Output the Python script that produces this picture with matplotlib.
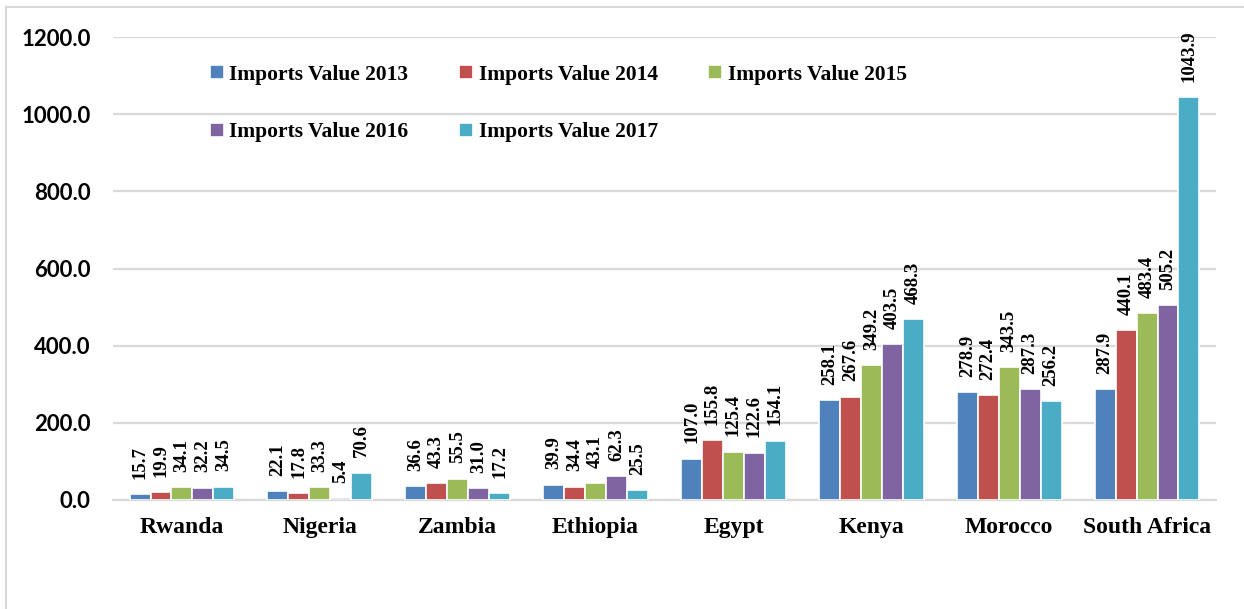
import numpy as np
import matplotlib
matplotlib.use("Agg")
import matplotlib.pyplot as plt
from matplotlib.lines import Line2D

# data
countries = ["Rwanda", "Nigeria", "Zambia", "Ethiopia", "Egypt", "Kenya",
             "Morocco", "South Africa"]
years = ["2013", "2014", "2015", "2016", "2017"]
imp_2013 = [15.7, 22.1, 36.6, 39.9, 107.0, 258.1, 278.9, 287.9]
imp_2014 = [19.9, 17.8, 43.3, 34.4, 155.8, 267.6, 272.4, 440.1]
imp_2015 = [34.1, 33.3, 55.5, 43.1, 125.4, 349.2, 343.5, 483.4]
imp_2016 = [32.2, 5.4, 31.0, 62.3, 122.6, 403.5, 287.3, 505.2]
imp_2017 = [34.5, 70.6, 17.2, 25.5, 154.1, 468.3, 256.2, 1043.9]
yticks = [0, 200, 400, 600, 800, 1000, 1200]

series = [imp_2013, imp_2014, imp_2015, imp_2016, imp_2017]
colors = ["#4F81BD", "#C0504D", "#9BBB59", "#8064A2", "#4BACC6"]

serif = ["Liberation Serif", "DejaVu Serif"]
sans = ["Lato", "Liberation Sans", "DejaVu Sans"]

fig = plt.figure(figsize=(12.44, 6.09), dpi=100)
ax = fig.add_axes([113/1244, 1-500/609, (1216-113)/1244, (500-37)/609])

x = np.arange(len(countries))
bw = 0.152
bars = []
for i, (vals, c) in enumerate(zip(series, colors)):
    pos = x + (i - 2) * bw
    b = ax.bar(pos, vals, width=bw, color=c, edgecolor="white", linewidth=1.2,
               zorder=3, label="Imports Value " + years[i])
    bars.append(b)
    for px, v in zip(pos, vals):
        ax.annotate("%.1f" % v, (px, v), xytext=(0, 11), textcoords="offset points",
                    rotation=90, ha="center", va="bottom", fontsize=13.5,
                    fontweight="bold", family=serif, annotation_clip=False)

ax.set_xlim(-0.5, len(countries) - 0.5)
ax.set_ylim(0, 1200)
ax.set_yticks(yticks)
ax.set_yticklabels(["%.1f" % t for t in yticks], fontsize=16,
                   fontweight="bold", family=sans)
ax.set_xticks(x)
ax.set_xticklabels(countries, fontsize=17, fontweight="bold", family=serif)
ax.tick_params(axis="y", length=0, pad=16)
ax.tick_params(axis="x", length=0, pad=12)
ax.yaxis.grid(True, color="#d9d9d9", linewidth=1.6, zorder=0)
ax.set_axisbelow(True)
for s in ["top", "right", "left"]:
    ax.spines[s].set_visible(False)
ax.spines["bottom"].set_color("#d9d9d9")
ax.spines["bottom"].set_linewidth(1.6)

# row-major legend order: 2013 2014 2015 / 2016 2017
order = [0, 3, 1, 4, 2]
leg = ax.legend([bars[k] for k in order], ["Imports Value " + years[k] for k in order],
                ncol=3, loc="upper left", bbox_to_anchor=(0.088, 0.94),
                frameon=False, prop={"family": serif, "weight": "bold", "size": 15.5},
                handlelength=0.65, handleheight=0.65, handletextpad=0.25,
                columnspacing=2.35, labelspacing=1.75, borderpad=0, borderaxespad=0)

# outer frame of the original figure (left and top edges only)
fig.add_artist(Line2D([6/1244, 6/1244], [0, 1-7/609], transform=fig.transFigure,
                      color="#d9d9d9", linewidth=1.5))
fig.add_artist(Line2D([6/1244, 1], [1-7/609, 1-7/609], transform=fig.transFigure,
                      color="#d9d9d9", linewidth=1.5))

fig.savefig("out.png", dpi=100)
